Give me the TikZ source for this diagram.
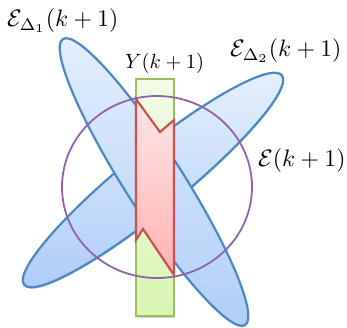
\documentclass[tikz,border=0pt]{standalone}
\usepackage{graphicx}
\usetikzlibrary{shadows}
\definecolor{ellstroke}{HTML}{4A88C6}
\definecolor{elltop}{HTML}{E4EFFD}
\definecolor{ellbot}{HTML}{B0CDF8}
\definecolor{grstroke}{HTML}{9DBE5D}
\definecolor{grtop}{HTML}{F1FBE6}
\definecolor{grbot}{HTML}{D8F5B3}
\definecolor{rdstroke}{HTML}{C9524E}
\definecolor{rdtop}{HTML}{FFE6E6}
\definecolor{rdbot}{HTML}{FFB2B2}
\definecolor{purp}{HTML}{8D65AA}
\newcommand{\lblbig}[1]{\scalebox{2.38}{#1}}
\newcommand{\lblsm}[1]{\scalebox{2.05}{#1}}
\tikzset{
  softshadow/.style={drop shadow={shadow xshift=0.6pt, shadow yshift=-1.6pt, opacity=0.18, fill=black}},
  ellshape/.style={draw=ellstroke, line width=2.2pt, top color=elltop, bottom color=ellbot, softshadow},
  grshape/.style={draw=grstroke, line width=2.2pt, top color=grtop, bottom color=grbot, softshadow},
  rdshape/.style={draw=rdstroke, line width=2.2pt, top color=rdtop, bottom color=rdbot, line join=miter},
  circshape/.style={draw=purp, line width=1.8pt},
  lbl/.style={inner sep=0pt, anchor=west}
}
\begin{document}
\begin{tikzpicture}[x=1pt,y=1pt]
\useasboundingbox (0,0) rectangle (347,-327);
% ellipses
\path[ellshape] (153,-180) ellipse [x radius=166, y radius=30, rotate=39.1];
\path[ellshape] (154,-182) ellipse [x radius=169.5, y radius=29, rotate=-57.5];
% green rectangle
\path[grshape] (136,-79) rectangle (174,-316);
% red polygon
\path[rdshape] (136,-99) -- (160,-132) -- (174,-120) -- (174,-275) -- (143,-229) -- (136,-240) -- cycle;
% circle
\path[circshape] (157,-187) ellipse [x radius=95, y radius=91];
% labels
\node[lbl] (ed1) at (7,-21) {\lblbig{$\mathcal{E}_{\Delta_1}(k+1)$}};
\node[lbl] (ed2) at (230,-51) {\lblbig{$\mathcal{E}_{\Delta_2}(k+1)$}};
\node[lbl] (yk) at (125,-63) {\lblsm{$Y(k+1)$}};
\node[lbl] (ek) at (258,-161) {\lblbig{$\mathcal{E}(k+1)$}};
\end{tikzpicture}
\end{document}
